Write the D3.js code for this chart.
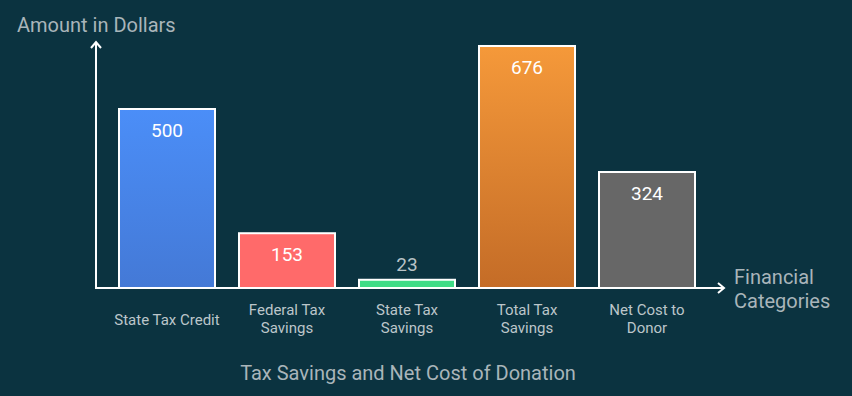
<!DOCTYPE html>
<html>
<head>
<meta charset="utf-8">
<script src="https://d3js.org/d3.v7.min.js"></script>
<style>
  body { margin: 0; background: #0b3340; }
  svg { display: block; font-family: Roboto, "Noto Sans", sans-serif; }
</style>
</head>
<body>
<svg width="852" height="396"></svg>
<script>
 var categories = ["State Tax Credit", "Federal Tax Savings", "State Tax Savings", "Total Tax Savings", "Net Cost to Donor"];
 var labelLines = [["State Tax Credit"], ["Federal Tax", "Savings"], ["State Tax", "Savings"], ["Total Tax", "Savings"], ["Net Cost to", "Donor"]];
 var values = [500, 153, 23, 676, 324];
 var colorsTop = ["#4b8ef8", "#ff6a6a", "#3fdc86", "#f5993a", "#676767"];
 var colorsBottom = ["#4479d6", "#ff6a6a", "#3fdc86", "#c46c27", "#676767"];

 var svg = d3.select("svg");
 var baseY = 288, axisX = 96;

 var x = d3.scaleBand().domain(categories).range([107, 707]).paddingInner(0.2).paddingOuter(0.1);
 var y = d3.scaleLinear().domain([0, 500]).range([baseY, 109]);

 var defs = svg.append("defs");
 categories.forEach(function (c, i) {
     var g = defs.append("linearGradient").attr("id", "g" + i)
        .attr("x1", 0).attr("y1", 0).attr("x2", 0).attr("y2", 1);
     g.append("stop").attr("offset", "0%").attr("stop-color", colorsTop[i]);
     g.append("stop").attr("offset", "100%").attr("stop-color", colorsBottom[i]);
 });

 svg.selectAll("rect.bar")
    .data(values)
    .enter()
    .append("rect")
    .attr("class", "bar")
    .attr("x", function (d, i) { return x(categories[i]); })
    .attr("y", function (d) { return y(d); })
    .attr("width", x.bandwidth())
    .attr("height", function (d) { return baseY - y(d); })
    .attr("fill", function (d, i) { return "url(#g" + i + ")"; })
    .attr("stroke", "white")
    .attr("stroke-width", 2);

 // value labels: inside the bar when tall enough, above otherwise
 svg.selectAll("text.val")
    .data(values)
    .enter()
    .append("text")
    .attr("class", "val")
    .attr("x", function (d, i) { return x(categories[i]) + x.bandwidth() / 2; })
    .attr("y", function (d) { return baseY - y(d) > 30 ? y(d) + 28 : y(d) - 9; })
    .attr("text-anchor", "middle")
    .attr("font-size", "19px")
    .attr("fill", function (d) { return baseY - y(d) > 30 ? "#ffffff" : "#b9c3c7"; })
    .text(function (d) { return d; });

 // axes with arrow heads
 svg.append("path").attr("d", "M " + axisX + " " + (baseY + 1) + " V 42")
    .attr("stroke", "white").attr("stroke-width", 2).attr("fill", "none");
 svg.append("path").attr("d", "M " + (axisX - 5) + " 48 L " + axisX + " 42 L " + (axisX + 5) + " 48")
    .attr("stroke", "white").attr("stroke-width", 2).attr("fill", "none");
 svg.append("path").attr("d", "M " + (axisX - 1) + " " + baseY + " H 724")
    .attr("stroke", "white").attr("stroke-width", 2).attr("fill", "none");
 svg.append("path").attr("d", "M 718 " + (baseY - 5) + " L 724 " + baseY + " L 718 " + (baseY + 5))
    .attr("stroke", "white").attr("stroke-width", 2).attr("fill", "none");

 // category labels
 var catG = svg.selectAll("text.cat")
    .data(labelLines)
    .enter()
    .append("text")
    .attr("class", "cat")
    .attr("text-anchor", "middle")
    .attr("font-size", "15px")
    .attr("fill", "#bcc6ca");
 catG.each(function (lines, i) {
     var t = d3.select(this);
     var cx = x(categories[i]) + x.bandwidth() / 2;
     var startY = lines.length === 1 ? 325 : 315;
     lines.forEach(function (l, j) {
         t.append("tspan").attr("x", cx).attr("y", startY + j * 18).text(l);
     });
 });

 // axis titles
 svg.append("text").attr("x", 17).attr("y", 32)
    .attr("font-size", "20px").attr("fill", "#a9b5ba").text("Amount in Dollars");
 var xt = svg.append("text").attr("font-size", "20px").attr("fill", "#a9b5ba");
 xt.append("tspan").attr("x", 734).attr("y", 284).text("Financial");
 xt.append("tspan").attr("x", 734).attr("y", 308).text("Categories");

 svg.append("text").attr("x", 408).attr("y", 380).attr("text-anchor", "middle")
    .attr("font-size", "20px").attr("fill", "#a9b5ba").text("Tax Savings and Net Cost of Donation");
</script>
</body>
</html>
